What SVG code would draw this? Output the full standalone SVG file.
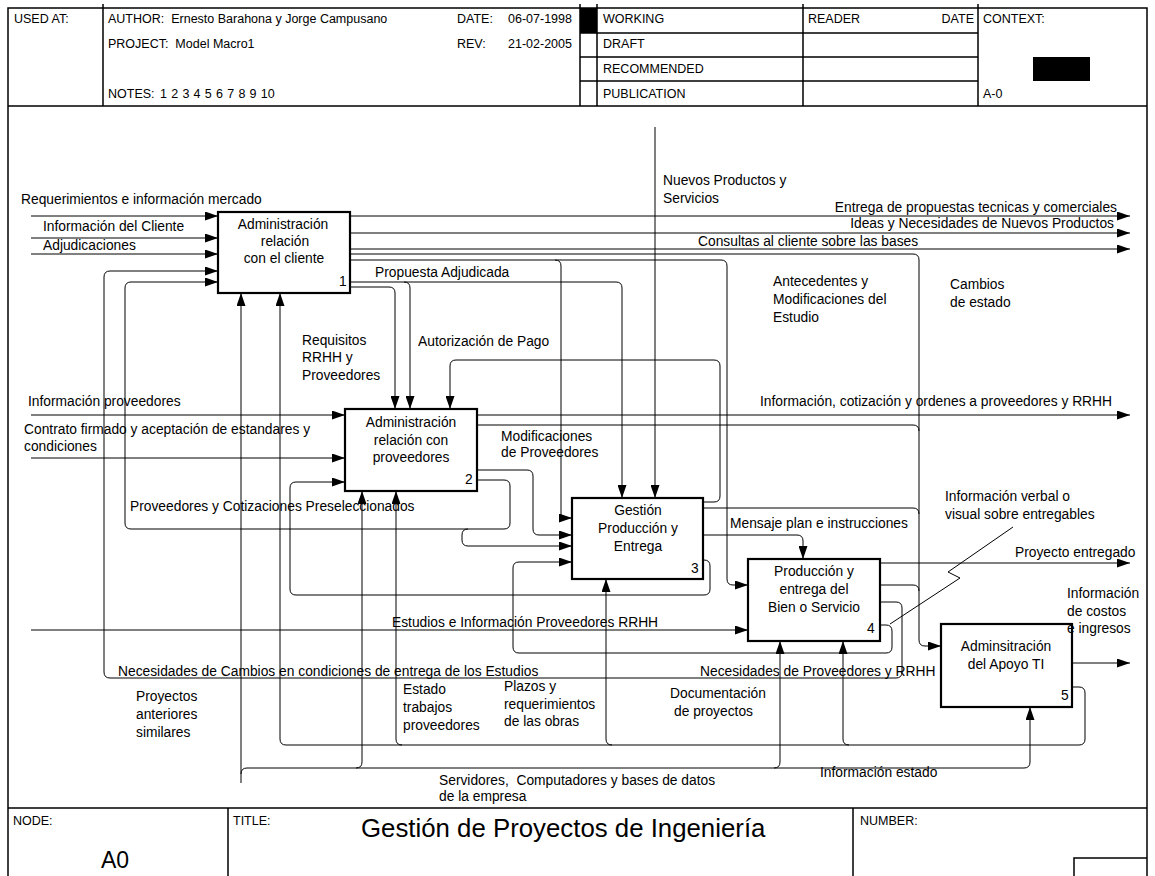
<svg xmlns="http://www.w3.org/2000/svg" width="1155" height="876" viewBox="0 0 1155 876">
  <style>
    text { font-family: "Liberation Sans", Arial, sans-serif; font-size: 13.8px; fill: #000; }
    .hd { font-size: 12.5px; white-space: pre; }
    .ln { fill: none; stroke: #000; stroke-width: 1; }
    .fr { fill: none; stroke: #000; stroke-width: 1.5; }
    .box { fill: #fff; stroke: #000; stroke-width: 2.2; }
    .mid { text-anchor: middle; }
    .end { text-anchor: end; }
  </style>
  <defs>
    <marker id="ah" viewBox="0 0 13 9" refX="13" refY="4.5" markerWidth="13" markerHeight="9" orient="auto" markerUnits="userSpaceOnUse">
      <path d="M0,0 L13,4.5 L0,9 z" fill="#000"/>
    </marker>
  </defs>
  <rect width="1155" height="876" fill="#fff"/>

  <!-- sheet frame -->
  <g id="frame">
    <path class="fr" d="M8,876 V8 H1147 V876"/>
    <path class="fr" d="M8,106 H1147 M8,808 H1147"/>
    <!-- header dividers -->
    <path class="fr" d="M103,4 V106 M580,4 V106 M597,4 V106 M803,4 V106 M978,4 V106"/>
    <path class="fr" d="M580,33 H978 M580,57 H978 M580,81 H978"/>
    <rect x="580" y="8" width="17" height="25" fill="#000"/>
    <rect x="1033" y="57" width="57" height="24" fill="#000"/>
    <!-- footer dividers -->
    <path class="fr" d="M228,808 V876 M853,808 V876"/>
    <path class="fr" d="M1074,876 V858 H1147"/>
  </g>

  <g id="header">
    <text class="hd" x="14" y="23">USED AT:</text>
    <text class="hd" x="108" y="23">AUTHOR:  Ernesto Barahona y Jorge Campusano</text>
    <text class="hd" x="457" y="23">DATE:</text>
    <text class="hd" x="508" y="23">06-07-1998</text>
    <text class="hd" x="108" y="48">PROJECT:  Model Macro1</text>
    <text class="hd" x="457" y="48">REV:</text>
    <text class="hd" x="508" y="48">21-02-2005</text>
    <text class="hd" x="108" y="98">NOTES:</text>
    <text class="hd" x="160 171.2 182.4 193.6 204.8 216 227.2 238.4 249.6 260.8 267.8" y="98">12345678910</text>
    <text class="hd" x="603" y="23">WORKING</text>
    <text class="hd" x="603" y="48">DRAFT</text>
    <text class="hd" x="603" y="73">RECOMMENDED</text>
    <text class="hd" x="603" y="98">PUBLICATION</text>
    <text class="hd" x="808" y="23">READER</text>
    <text class="hd end" x="974" y="23">DATE</text>
    <text class="hd" x="983" y="23">CONTEXT:</text>
    <text class="hd" x="983" y="98">A-0</text>
  </g>

  <g id="footer">
    <text class="hd" x="13" y="825">NODE:</text>
    <text class="hd" x="233" y="825">TITLE:</text>
    <text class="hd" x="860" y="825">NUMBER:</text>
    <text x="361" y="837" style="font-size:25.8px">Gestión de Proyectos de Ingeniería</text>
    <text x="101" y="868" style="font-size:23px">A0</text>
  </g>

  <!-- connectors -->
  <g id="connectors">
    <!-- boundary inputs -->
    <path class="ln" marker-end="url(#ah)" d="M31,216 H218"/>
    <path class="ln" marker-end="url(#ah)" d="M31,238 H218"/>
    <path class="ln" marker-end="url(#ah)" d="M31,254 H218"/>
    <path class="ln" marker-end="url(#ah)" d="M31,415 H345"/>
    <path class="ln" marker-end="url(#ah)" d="M31,458 H345"/>
    <path class="ln" marker-end="url(#ah)" d="M31,630 H748"/>
    <path class="ln" marker-end="url(#ah)" d="M655,127 V498"/>
    <!-- boundary outputs -->
    <path class="ln" marker-end="url(#ah)" d="M350,216 H1130"/>
    <path class="ln" marker-end="url(#ah)" d="M350,233 H1130"/>
    <path class="ln" marker-end="url(#ah)" d="M350,249 H1130"/>
    <path class="ln" marker-end="url(#ah)" d="M477,415 H1130"/>
    <path class="ln" marker-end="url(#ah)" d="M880,563 H1130"/>
    <path class="ln" marker-end="url(#ah)" d="M1072,663 H1130"/>
    <!-- state changes joined into box 5 -->
    <path class="ln" marker-end="url(#ah)" d="M350,254 H913 Q919,254 919,260 V640 Q919,646 925,646 H941"/>
    <path class="ln" d="M477,425 H913 Q919,425 919,431"/>
    <path class="ln" d="M703,508 H913 Q919,508 919,514"/>
    <path class="ln" d="M880,585 H913 Q919,585 919,591"/>
    <!-- box 1 to boxes 3 and 4 -->
    <path class="ln" marker-end="url(#ah)" d="M350,260 H721 Q727,260 727,266 V579 Q727,585 733,585 H748"/>
    <path class="ln" marker-end="url(#ah)" d="M555,260 Q561,260 561,266 V518 H572"/>
    <!-- Propuesta Adjudicada -->
    <path class="ln" marker-end="url(#ah)" d="M350,282 H616 Q622,282 622,288 V498"/>
    <path class="ln" marker-end="url(#ah)" d="M404,282 Q410,282 410,288 V409"/>
    <!-- Requisitos RRHH y Proveedores -->
    <path class="ln" marker-end="url(#ah)" d="M350,287 H389 Q395,287 395,293 V409"/>
    <!-- feedback from box 4 to box 1 -->
    <path class="ln" marker-end="url(#ah)" d="M880,602 H896 Q902,602 902,608 V672 Q902,678 896,678 H110 Q104,678 104,672 V277 Q104,271 110,271 H218"/>
    <!-- Proveedores y Cotizaciones Preseleccionados -->
    <path class="ln" marker-end="url(#ah)" d="M477,480 H504 Q510,480 510,486 V523 Q510,529 504,529 H131 Q125,529 125,523 V288 Q125,282 131,282 H218"/>
    <path class="ln" marker-end="url(#ah)" d="M468,529 Q462,529 462,535 V540 Q462,546 468,546 H572"/>
    <!-- Modificaciones de Proveedores -->
    <path class="ln" marker-end="url(#ah)" d="M477,470 H527 Q533,470 533,476 V529 Q533,535 539,535 H572"/>
    <!-- Autorización de Pago -->
    <path class="ln" marker-end="url(#ah)" d="M703,502 H714 Q720,502 720,496 V366 Q720,360 714,360 H456 Q450,360 450,366 V409"/>
    <!-- Mensaje plan e instrucciones -->
    <path class="ln" marker-end="url(#ah)" d="M703,535 H797 Q803,535 803,541 V559"/>
    <!-- box 3 back to box 2 -->
    <path class="ln" marker-end="url(#ah)" d="M703,560 H704 Q710,560 710,566 V589 Q710,595 704,595 H296 Q290,595 290,589 V488 Q290,482 296,482 H345"/>
    <!-- box 4 back to box 3 -->
    <path class="ln" marker-end="url(#ah)" d="M880,625 H886 Q892,625 892,631 V647 Q892,653 886,653 H519 Q513,653 513,647 V568 Q513,562 519,562 H572"/>
    <!-- box 5 mechanism feed -->
    <path class="ln" marker-end="url(#ah)" d="M1072,687 H1079 Q1085,687 1085,693 V739 Q1085,745 1079,745 H286 Q280,745 280,739 V293"/>
    <path class="ln" marker-end="url(#ah)" d="M849,745 Q843,745 843,739 V641"/>
    <path class="ln" marker-end="url(#ah)" d="M612,745 Q606,745 606,739 V579"/>
    <path class="ln" marker-end="url(#ah)" d="M402,745 Q396,745 396,739 V491"/>
    <!-- Servidores, Computadores y bases de datos -->
    <path class="ln" marker-end="url(#ah)" d="M241,783 V293"/>
    <path class="ln" marker-end="url(#ah)" d="M241,774 Q241,768 247,768 H1024 Q1030,768 1030,762 V707"/>
    <path class="ln" marker-end="url(#ah)" d="M356,768 Q362,768 362,762 V491"/>
    <path class="ln" marker-end="url(#ah)" d="M774,768 Q780,768 780,762 V641"/>
    <!-- squiggle for the verbal information label -->
    <path class="ln" d="M890,624 L960,578 L948,572 L1013,527"/>
  </g>

  <!-- activity boxes -->
  <g id="box1">
    <rect class="box" x="218" y="212" width="132" height="81"/>
    <text class="mid" x="283" y="229">Administración</text>
    <text class="mid" x="285" y="246">relación</text>
    <text class="mid" x="284" y="263">con el cliente</text>
    <text x="339" y="286">1</text>
  </g>
  <g id="box2">
    <rect class="box" x="345" y="409" width="132" height="82"/>
    <text class="mid" x="411" y="427">Administración</text>
    <text class="mid" x="411" y="445">relación con</text>
    <text class="mid" x="411" y="462">proveedores</text>
    <text x="465" y="484">2</text>
  </g>
  <g id="box3">
    <rect class="box" x="572" y="498" width="131" height="81"/>
    <text class="mid" x="638" y="515">Gestión</text>
    <text class="mid" x="638" y="533">Producción y</text>
    <text class="mid" x="638" y="551">Entrega</text>
    <text x="691" y="573">3</text>
  </g>
  <g id="box4">
    <rect class="box" x="748" y="559" width="132" height="82"/>
    <text class="mid" x="814" y="576">Producción y</text>
    <text class="mid" x="814" y="594">entrega del</text>
    <text class="mid" x="814" y="612">Bien o Servicio</text>
    <text x="867" y="633">4</text>
  </g>
  <g id="box5">
    <rect class="box" x="941" y="624" width="131" height="83"/>
    <text class="mid" x="1006" y="651">Adminsitración</text>
    <text class="mid" x="1006" y="669">del Apoyo TI</text>
    <text x="1061" y="700">5</text>
  </g>

  <!-- arrow labels, drawn last so none is hidden by a box -->
  <g id="labels">
    <text x="21" y="204">Requerimientos e información mercado</text>
    <text x="43" y="231">Información del Cliente</text>
    <text x="43" y="250">Adjudicaciones</text>
    <text x="663" y="185">Nuevos Productos y</text>
    <text x="663" y="203">Servicios</text>
    <text class="end" x="1117" y="212">Entrega de propuestas tecnicas y comerciales</text>
    <text class="end" x="1114" y="228">Ideas y Necesidades de Nuevos Productos</text>
    <text x="698" y="246">Consultas al cliente sobre las bases</text>
    <text x="375" y="277">Propuesta Adjudicada</text>
    <text x="773" y="286">Antecedentes y</text>
    <text x="773" y="304">Modificaciones del</text>
    <text x="773" y="322">Estudio</text>
    <text x="950" y="289">Cambios</text>
    <text x="950" y="307">de estado</text>
    <text x="302" y="345">Requisitos</text>
    <text x="302" y="362">RRHH y</text>
    <text x="302" y="380">Proveedores</text>
    <text x="418" y="346">Autorización de Pago</text>
    <text x="28" y="406">Información proveedores</text>
    <text x="760" y="406">Información, cotización y ordenes a proveedores y RRHH</text>
    <text x="24" y="434">Contrato firmado y aceptación de estandares y</text>
    <text x="24" y="451">condiciones</text>
    <text x="501" y="441">Modificaciones</text>
    <text x="501" y="457">de Proveedores</text>
    <text x="130" y="511">Proveedores y Cotizaciones Preseleccionados</text>
    <text x="945" y="501">Información verbal o</text>
    <text x="945" y="519">visual sobre entregables</text>
    <text x="730" y="528">Mensaje plan e instrucciones</text>
    <text x="1015" y="557">Proyecto entregado</text>
    <text x="1067" y="598">Información</text>
    <text x="1067" y="616">de costos</text>
    <text x="1067" y="633">e ingresos</text>
    <text x="392" y="627">Estudios e Información Proveedores RRHH</text>
    <text x="118" y="676">Necesidades de Cambios en condiciones de entrega de los Estudios</text>
    <text x="700" y="676">Necesidades de Proveedores y RRHH</text>
    <text x="136" y="701">Proyectos</text>
    <text x="136" y="719">anteriores</text>
    <text x="136" y="737">similares</text>
    <text x="403" y="694">Estado</text>
    <text x="403" y="712">trabajos</text>
    <text x="403" y="730">proveedores</text>
    <text x="504" y="691">Plazos y</text>
    <text x="504" y="709">requerimientos</text>
    <text x="504" y="726">de las obras</text>
    <text x="670" y="698">Documentación</text>
    <text x="674" y="716">de proyectos</text>
    <text x="439" y="785" style="white-space:pre">Servidores,  Computadores y bases de datos</text>
    <text x="439" y="801">de la empresa</text>
    <text x="820" y="777">Información estado</text>
  </g>
</svg>
